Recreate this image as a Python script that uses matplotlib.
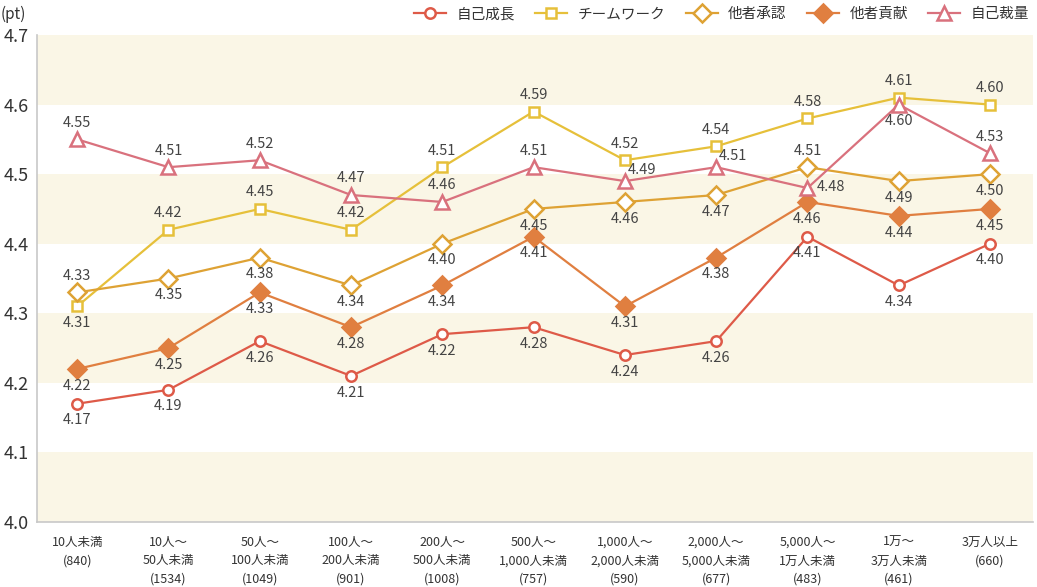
import matplotlib
matplotlib.use("Agg")
import matplotlib.pyplot as plt
from matplotlib.lines import Line2D

plt.rcParams['font.family'] = ['Noto Sans CJK JP', 'DejaVu Sans']

# DATA
categories = [
    "10人未満\n(840)",
    "10人～\n50人未満\n(1534)",
    "50人～\n100人未満\n(1049)",
    "100人～\n200人未満\n(901)",
    "200人～\n500人未満\n(1008)",
    "500人～\n1,000人未満\n(757)",
    "1,000人～\n2,000人未満\n(590)",
    "2,000人～\n5,000人未満\n(677)",
    "5,000人～\n1万人未満\n(483)",
    "1万～\n3万人未満\n(461)",
    "3万人以上\n(660)",
]
series_names = ["自己成長", "チームワーク", "他者承認", "他者貢献", "自己裁量"]
jiko_seichou = [4.17, 4.19, 4.26, 4.21, 4.27, 4.28, 4.24, 4.26, 4.41, 4.34, 4.40]
teamwork = [4.31, 4.42, 4.45, 4.42, 4.51, 4.59, 4.52, 4.54, 4.58, 4.61, 4.60]
tasha_shounin = [4.33, 4.35, 4.38, 4.34, 4.40, 4.45, 4.46, 4.47, 4.51, 4.49, 4.50]
tasha_kouken = [4.22, 4.25, 4.33, 4.28, 4.34, 4.41, 4.31, 4.38, 4.46, 4.44, 4.45]
jiko_sairyou = [4.55, 4.51, 4.52, 4.47, 4.46, 4.51, 4.49, 4.51, 4.48, 4.60, 4.53]
# printed label texts differ from plotted value at one point in the source
jiko_seichou_labels = ["4.17", "4.19", "4.26", "4.21", "4.22", "4.28", "4.24", "4.26", "4.41", "4.34", "4.40"]
yticks = [4.0, 4.1, 4.2, 4.3, 4.4, 4.5, 4.6, 4.7]

all_values = [jiko_seichou, teamwork, tasha_shounin, tasha_kouken, jiko_sairyou]

# styles
colors = ["#de5a48", "#e6c03a", "#dea234", "#e07f40", "#d9717d"]
markers = ["o", "s", "D", "D", "^"]
msizes = [7.5, 7.5, 9, 9.5, 10]
faces = ["white", "white", "white", "#e07f40", "white"]
# label placement: a = above, b = below, r = right-up, s = right
place = [
    ["b"] * 11,
    ["b", "a", "a", "a", "a", "a", "a", "a", "a", "a", "a"],
    ["a", "b", "b", "b", "b", "b", "b", "b", "a", "b", "b"],
    ["b"] * 11,
    ["a", "a", "a", "a", "a", "a", "r", "r", "s", "b", "a"],
]
offsets = {"a": (0, 12, "center"), "b": (0, -12, "center"),
           "r": (2, 8, "left"), "s": (7, 1, "left")}

fig = plt.figure(figsize=(10.37, 5.87), dpi=100)
ax = fig.add_axes([0.0357, 0.1107, 0.9604, 0.8297])

x = list(range(len(categories)))

# background bands
for lo in [4.0, 4.2, 4.4, 4.6]:
    ax.axhspan(lo, lo + 0.1, color="#faf6e6", zorder=0, lw=0)

for i, vals in enumerate(all_values):
    ax.plot(x, vals, color=colors[i], lw=1.6, marker=markers[i], ms=msizes[i],
            mfc=faces[i], mec=colors[i], mew=1.8, zorder=3 + i)
    texts = jiko_seichou_labels if i == 0 else [f"{v:.2f}" for v in vals]
    for j, v in enumerate(vals):
        dx, dy, ha = offsets[place[i][j]]
        ax.annotate(texts[j], (j, v), xytext=(dx, dy), textcoords="offset points",
                    ha=ha, va="center", fontsize=10.5, color="#444444", zorder=10)

ax.set_xlim(-0.44, 10.47)
ax.set_ylim(4.0, 4.7)
ax.set_yticks(yticks)
ax.set_yticklabels([f"{t:.1f}" for t in yticks], fontsize=13, color="#333333")
ax.set_xticks(x)
ax.set_xticklabels(categories, fontsize=9, color="#333333", linespacing=1.55, va="top")
ax.tick_params(axis="both", length=0)
ax.tick_params(axis="x", pad=10)
ax.tick_params(axis="y", pad=6)
for s in ["top", "right"]:
    ax.spines[s].set_visible(False)
for s in ["left", "bottom"]:
    ax.spines[s].set_color("#c8c8c8")
    ax.spines[s].set_linewidth(1.2)

fig.text(0.001, 0.975, "(pt)", fontsize=11, color="#333333", va="center", ha="left")

handles = [Line2D([], [], color=colors[i], lw=1.6, marker=markers[i], ms=msizes[i],
                  mfc=faces[i], mec=colors[i], mew=1.8) for i in range(5)]
fig.legend(handles, series_names, loc="upper right", bbox_to_anchor=(1.005, 1.01),
           ncol=5, frameon=False, fontsize=10.5, handlelength=2.2,
           columnspacing=1.4, handletextpad=0.7, labelcolor="#333333")

fig.savefig("out.png", dpi=100)
